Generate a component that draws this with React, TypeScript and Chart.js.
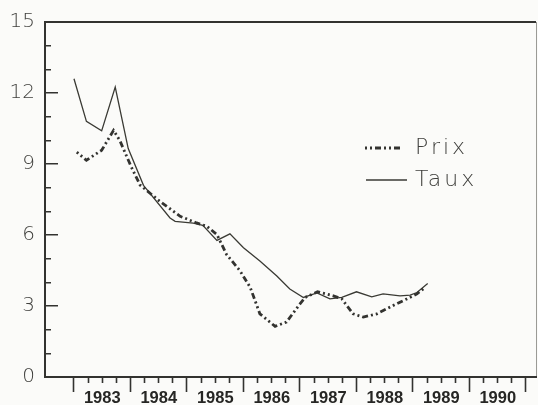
import React, { useEffect, useRef } from "react";
import { Chart, registerables } from "chart.js";

Chart.register(...registerables);

// ---- data (decimal years) ----
const prixDates = [1983.05, 1983.22, 1983.49, 1983.70, 1983.81, 1984.0, 1984.17, 1984.52, 1984.88, 1985.17, 1985.35, 1985.53, 1985.70, 1985.94, 1986.12, 1986.29, 1986.56, 1986.76, 1987.0, 1987.09, 1987.31, 1987.59, 1987.74, 1987.94, 1988.12, 1988.36, 1988.65, 1988.89, 1989.07, 1989.21];
const prixValues = [9.5, 9.16, 9.58, 10.42, 10.0, 8.95, 8.11, 7.42, 6.79, 6.51, 6.37, 6.02, 5.18, 4.48, 3.78, 2.67, 2.14, 2.32, 3.09, 3.36, 3.6, 3.43, 3.3, 2.67, 2.53, 2.67, 3.02, 3.3, 3.51, 3.78];

const tauxDates = [1983.0, 1983.22, 1983.49, 1983.73, 1983.96, 1984.23, 1984.70, 1984.79, 1985.11, 1985.28, 1985.53, 1985.76, 1986.0, 1986.29, 1986.59, 1986.82, 1987.06, 1987.30, 1987.53, 1987.74, 1988.0, 1988.27, 1988.47, 1988.77, 1988.95, 1989.07, 1989.26];
const tauxValues = [12.6, 10.8, 10.4, 12.25, 9.65, 8.1, 6.72, 6.58, 6.5, 6.41, 5.77, 6.05, 5.46, 4.9, 4.27, 3.72, 3.36, 3.55, 3.3, 3.36, 3.6, 3.39, 3.51, 3.43, 3.46, 3.57, 3.95];

const seriesLabels = ["Prix", "Taux"];
const yearLabels = ["1983", "1984", "1985", "1986", "1987", "1988", "1989", "1990"];
const firstYear = 1983;
const lastYear = 1991;
const xMin = 1982.487;
const xMax = 1991.177;
const yMin = 0;
const yMax = 15;
const yLabelStep = 3;

const INK = "#333330";

const insideLegend = {
  id: "insideLegend",
  afterDatasetsDraw(chart: any) {
    const ctx = chart.ctx;
    const rows = [
      { i: 0, y: 148, x1: 365, x2: 403, tx: 415 },
      { i: 1, y: 180, x1: 366, x2: 407, tx: 415 },
    ];
    ctx.save();
    rows.forEach((r) => {
      const ds = chart.data.datasets[r.i];
      ctx.strokeStyle = ds.borderColor;
      ctx.lineWidth = ds.borderWidth;
      ctx.setLineDash(ds.borderDash || []);
      ctx.beginPath();
      ctx.moveTo(r.x1, r.y);
      ctx.lineTo(r.x2, r.y);
      ctx.stroke();
      ctx.setLineDash([]);
      ctx.fillStyle = "#3f3f3c";
      ctx.font = "200 22px 'DejaVu Sans', sans-serif";
      try {
        (ctx as any).letterSpacing = "3px";
      } catch (e) {}
      ctx.textBaseline = "middle";
      ctx.textAlign = "left";
      ctx.fillText(ds.label, r.tx, r.y);
    });
    ctx.restore();
  },
};

export default function App() {
  const ref = useRef<HTMLCanvasElement | null>(null);

  useEffect(() => {
    if (!ref.current) return;
    const chart = new Chart(ref.current, {
      type: "line",
      data: {
        datasets: [
          {
            label: seriesLabels[0],
            data: prixDates.map((d, i) => ({ x: d, y: prixValues[i] })),
            borderColor: INK,
            borderWidth: 2.8,
            borderDash: [2, 3, 2, 3, 6, 3],
            pointRadius: 0,
            tension: 0,
            fill: false,
          },
          {
            label: seriesLabels[1],
            data: tauxDates.map((d, i) => ({ x: d, y: tauxValues[i] })),
            borderColor: "#3a3a34",
            borderWidth: 1.3,
            pointRadius: 0,
            tension: 0,
            fill: false,
          },
        ],
      },
      options: {
        animation: false,
        responsive: false,
        devicePixelRatio: 1,
        layout: { padding: { top: 20, right: 2, left: 0, bottom: 0 } },
        plugins: {
          legend: { display: false },
          tooltip: { enabled: false },
          title: { display: false },
        },
        scales: {
          x: {
            type: "linear",
            min: xMin,
            max: xMax,
            afterFit: (s: any) => {
              s.height = 28;
            },
            afterBuildTicks: (s: any) => {
              const t: any[] = [];
              for (let v = firstYear; v <= lastYear + 1e-9; v += 0.25) t.push({ value: v });
              t.push({ value: xMax });
              s.ticks = t;
            },
            ticks: {
              autoSkip: false,
              maxRotation: 0,
              minRotation: 0,
              padding: -3,
              color: "#262624",
              font: { family: "'Liberation Sans', Arial, sans-serif", size: 16.5, weight: "bold" },
              callback: (value: any) => {
                const v = Number(value);
                const f = Math.floor(v);
                if (Math.abs(v - f - 0.5) < 1e-6) {
                  const idx = f - firstYear;
                  return yearLabels[idx] ?? "";
                }
                return "";
              },
            },
            grid: {
              drawOnChartArea: true,
              drawTicks: true,
              tickLength: 15,
              tickWidth: 1.6,
              lineWidth: 1,
              color: (c: any) => (c.tick && Math.abs(c.tick.value - xMax) < 1e-6 ? "#9a9a96" : "rgba(0,0,0,0)"),
              tickColor: (c: any) => (c.tick && Math.abs(c.tick.value - xMax) < 1e-6 ? "rgba(0,0,0,0)" : INK),
              tickBorderDash: (c: any) => {
                if (!c.tick) return [];
                const v = c.tick.value;
                if (Math.abs(v - Math.round(v)) < 1e-6) return [];
                return [5, 100];
              },
            },
            border: { display: true, color: INK, width: 2 },
          },
          y: {
            type: "linear",
            min: yMin,
            max: yMax,
            afterFit: (s: any) => {
              s.width = 45;
            },
            ticks: {
              stepSize: 1,
              autoSkip: false,
              padding: 10,
              color: "#3f3f3c",
              font: { family: "'DejaVu Sans', sans-serif", size: 20, weight: 200 },
              callback: (value: any) => {
                const v = Number(value);
                return v % yLabelStep === 0 ? String(v) : "";
              },
            },
            grid: {
              drawOnChartArea: true,
              drawTicks: false,
              color: (c: any) => {
                if (!c.tick) return "rgba(0,0,0,0)";
                if (c.tick.value === yMin) return "rgba(0,0,0,0)";
                return INK;
              },
              lineWidth: (c: any) => (c.tick && c.tick.value === yMax ? 2 : 1.5),
            },
            border: {
              display: true,
              color: INK,
              width: 2,
              dash: (c: any) => {
                if (!c.tick) return [];
                const v = c.tick.value;
                if (v === yMax) return [];
                if (v % yLabelStep === 0) return [12, 2000];
                return [5, 2000];
              },
            },
          },
        },
      },
      plugins: [insideLegend],
    });
    return () => chart.destroy();
  }, []);

  return (
    <div
      style={{
        position: "fixed",
        left: 0,
        top: 0,
        width: 538,
        height: 405,
        background: "#fbfbf9",
        overflow: "hidden",
      }}
    >
      <canvas ref={ref} width={538} height={405} style={{ display: "block", width: 538, height: 405 }} />
    </div>
  );
}
